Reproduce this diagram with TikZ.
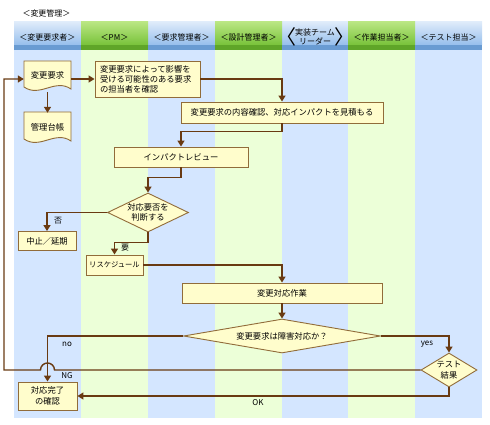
\documentclass[tikz,border=0pt]{standalone}
\usepackage{fontspec}
\setmainfont{Noto Sans CJK JP}
\usetikzlibrary{arrows.meta,shapes.geometric,calc}
\definecolor{lblue}{RGB}{212,230,255}
\definecolor{lgreen}{RGB}{236,255,216}
\definecolor{hbT}{RGB}{222,235,250}
\definecolor{hbB}{RGB}{150,190,236}
\definecolor{hbS}{RGB}{105,155,210}
\definecolor{hgT}{RGB}{185,230,130}
\definecolor{hgB}{RGB}{120,194,58}
\definecolor{hgS}{RGB}{95,165,40}
\definecolor{arrc}{RGB}{105,58,18}
\definecolor{boxd}{RGB}{145,108,58}
\definecolor{boxf}{RGB}{255,253,204}
\tikzset{
  hdr/.style={font=\fontsize{8}{9.5}\selectfont, inner sep=0pt, align=center},
  lbl/.style={font=\fontsize{8}{9.5}\selectfont, inner sep=0pt},
  proc/.style={draw=boxd, fill=boxf, line width=0.9pt, inner sep=0pt, align=center,
    font=\fontsize{8.3}{10}\selectfont},
  doctext/.style={inner sep=0pt, align=center, font=\fontsize{8.3}{10}\selectfont},
  docst/.style={draw=boxd, fill=boxf, line width=0.9pt},
  dec/.style={diamond, draw=boxd, fill=boxf, line width=0.9pt, inner sep=0pt, align=center,
    font=\fontsize{8.3}{10.5}\selectfont},
  arr/.style={draw=arrc, line width=1.4pt, -{Triangle[length=6pt,width=7pt]}},
}
\begin{document}
\begin{tikzpicture}[x=1pt,y=-1pt]
\useasboundingbox (0,0) rectangle (490,425);
% lanes
\foreach \a/\b in {14/81,148/215,282/348,415/482}{
  \fill[lblue] (\a,50) rectangle (\b,418);
  \shade[top color=hbT,bottom color=hbB] (\a,22) rectangle (\b,45);
  \fill[hbS] (\a,45) rectangle (\b,50);
}
\foreach \a/\b in {81/148,215/282,348/415}{
  \fill[lgreen] (\a,50) rectangle (\b,418);
  \shade[top color=hgT,bottom color=hgB] (\a,22) rectangle (\b,45);
  \fill[hgS] (\a,45) rectangle (\b,50);
}
% title and headers
\node[hdr] (title) at (46.5,13) {＜変更管理＞};
\node[hdr] (h1) at (47.5,37) {＜変更要求者＞};
\node[hdr] (h2) at (114.5,37) {＜PM＞};
\node[hdr] (h3) at (181.5,37) {＜要求管理者＞};
\node[hdr] (h4) at (248.5,37) {＜設計管理者＞};
\node[hdr] (h5) at (315,37) {実装チーム\\リーダー};
\node[inner sep=0pt, font=\fontsize{20}{20}\selectfont] (h5l) at (286,37) {〈};
\node[inner sep=0pt, font=\fontsize{20}{20}\selectfont] (h5r) at (344,37) {〉};
\node[hdr] (h6) at (381.5,37) {＜作業担当者＞};
\node[hdr] (h7) at (448.5,37) {＜テスト担当＞};
% document shapes
\draw[docst] (24,61) -- (71,61) -- (71,89) .. controls (55,78) and (40,98) .. (24,87) -- cycle;
\node[doctext, minimum width=47, minimum height=28] (doc1) at (47.5,75) {変更要求};
\draw[docst] (24,112) -- (71,112) -- (71,141) .. controls (55,130) and (40,150) .. (24,139) -- cycle;
\node[doctext, minimum width=47, minimum height=28] (doc2) at (47.5,127) {管理台帳};
% process boxes
\node[proc, align=left, text width=95, inner xsep=5, minimum height=36] (box1) at (147.5,79)
  {変更要求によって影響を\\受ける可能性のある要求\\の担当者を確認};
\node[proc, minimum width=202, minimum height=21] (box2) at (282,112.5)
  {変更要求の内容確認、対応インパクトを見積もる};
\node[proc, minimum width=134, minimum height=20] (imp) at (181,157) {インパクトレビュー};
\node[dec, aspect=2.08, minimum width=81, minimum height=39] (dia1) at (148,212.5) {対応要否を\\判断する};
\node[proc, minimum width=58, minimum height=19] (stop) at (47,241) {中止／延期};
\node[proc, minimum width=57, minimum height=20, font=\fontsize{7.3}{9}\selectfont] (resch) at (114.5,265) {リスケジュール};
\node[proc, minimum width=200, minimum height=20] (work) at (282,293) {変更対応作業};
\node[dec, aspect=5.8, minimum width=197, minimum height=34] (dia2) at (282,336) {変更要求は障害対応か？};
\node[dec, aspect=1.65, minimum width=56, minimum height=34] (test) at (449,370) {テスト\\結果};
\node[proc, minimum width=59, minimum height=28, font=\fontsize{8.3}{11}\selectfont] (conf) at (47.5,396) {対応完了\\の確認};
% labels
\node[lbl] (lhi) at (58,221) {否};
\node[lbl] (lyo) at (125,248) {要};
\node[lbl] (lno) at (67,344) {no};
\node[lbl] (lyes) at (427,344) {yes};
\node[lbl] (lng) at (67,376) {NG};
\node[lbl] (lok) at (258,403) {OK};
% connectors
\coordinate (ngx) at (4,0);
\draw[arr] (doc1.east |- box1.west) -- (box1.west);
\draw[arr] ($(doc1.south)+(0,3)$) -- (doc2.north);
\draw[arr] (box1.east) -| (box2.north);
\draw[arr] (box2.south) -- ++(0,8) -| (imp.north);
\draw[arr] (imp.south) -- ++(0,10) -| (dia1.north);
\draw[arr] (dia1.west) -| (stop.north);
\draw[arr] (dia1.south) -- ++(0,10) -| (resch.north);
\draw[arr] (resch.east) -| (work.north);
\draw[arr] (work.south) -- (dia2.north);
\draw[arr] (dia2.west) -| (conf.north);
\draw[arr] (dia2.east) -| (test.north);
\draw[arr] (test.west) -- ($(test.west -| conf.north)+(7,0)$) arc[start angle=0, end angle=-180, radius=7]
  -- (test.west -| ngx) -- (ngx |- box1.west) -- (doc1.west |- box1.west);
\draw[arr] (test.south) |- (conf.east);
\end{tikzpicture}
\end{document}
